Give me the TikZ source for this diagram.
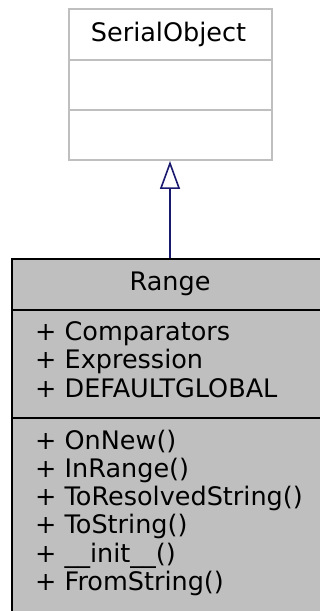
\documentclass[tikz,border=0pt]{standalone}
\usepackage{fontspec}
\setmainfont{DejaVu Sans}
\usetikzlibrary{arrows.meta}
\definecolor{boxgray}{RGB}{191,191,191}
\definecolor{edgeblue}{RGB}{25,25,112}
\begin{document}
\begin{tikzpicture}[x=1pt,y=1pt,
  txt/.style={font=\fontsize{25.5}{28.4}\selectfont, inner sep=0pt},
  mem/.style={txt, anchor=base west},
  parentpart/.style={draw=boxgray, line width=2pt, fill=white, minimum width=203pt, inner sep=0pt, rectangle},
  classpart/.style={draw=black, line width=2pt, fill=boxgray, minimum width=317pt, inner sep=0pt, rectangle},
  inherit/.style={draw=edgeblue, line width=1.6pt, -{Triangle[open, length=28pt, width=20pt, fill=white]}}]
\useasboundingbox (0,0) rectangle (320,611);
\fill[white] (0,0) rectangle (320,611);
\clip (0,0) rectangle (320,611);
% parent class
\node[parentpart, minimum height=51pt] (sotitle) at (170,576.5) {};
\node[parentpart, minimum height=50pt] (soattr) at (170,526) {};
\node[parentpart, minimum height=50pt] (someth) at (170,476) {};
\node[txt, anchor=base] (soname) at (168.5,569.3) {SerialObject};
% class
\node[classpart, minimum height=51pt] (rtitle) at (170,326.5) {};
\node[classpart, minimum height=108pt] (rattr) at (170,247) {};
\node[classpart, minimum height=240pt] (rmeth) at (170,73) {};
\node[txt, anchor=base] (rname) at (170,320.3) {Range};
\node[mem] (a1) at (35,270.3) {+ Comparators};
\node[mem] (a2) at (35,242) {+ Expression};
\node[mem] (a3) at (35,213.7) {+ DEFAULTGLOBAL};
\node[mem] (m1) at (35,161.7) {+ OnNew()};
\node[mem] (m2) at (35,133.5) {+ InRange()};
\node[mem] (m3) at (35,105.3) {+ ToResolvedString()};
\node[mem] (m4) at (35,77.1) {+ ToString()};
\node[mem] (m5) at (35,48.9) {+ \_\_init\_\_()};
\node[mem] (m6) at (35,20.7) {+ FromString()};
% inheritance
\draw[inherit] (rtitle.north) -- (someth.south);
\end{tikzpicture}
\end{document}
